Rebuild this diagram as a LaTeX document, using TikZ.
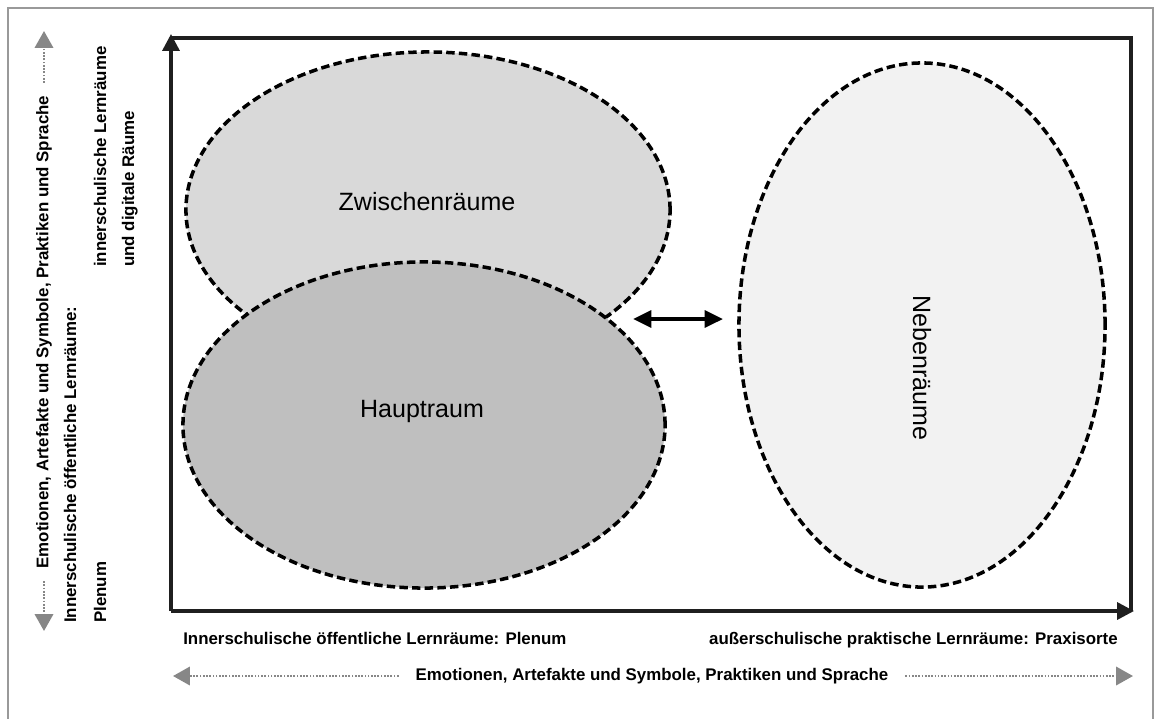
\documentclass[tikz,border=0pt]{standalone}
\usepackage{fontspec}
\setmainfont{Liberation Sans}
\usetikzlibrary{arrows.meta,shapes.geometric}
\definecolor{ZwischenClr}{rgb}{0.85,0.85,0.85}
\definecolor{HauptClr}{rgb}{0.75,0.75,0.75}
\definecolor{NebenClr}{rgb}{0.95,0.95,0.95}
\definecolor{PfeilClr}{rgb}{0.53,0.53,0.53}
\definecolor{RahmenClr}{rgb}{0.6,0.6,0.6}
\definecolor{AchsenClr}{rgb}{0.12,0.12,0.12}

\begin{document}
\begin{tikzpicture}[x=0.025cm,y=-0.025cm,
  raum/.style={ellipse,draw=black,line width=2.5pt,dash pattern=on 6pt off 3pt,inner sep=0pt},
  raumtext/.style={font=\fontsize{17.8}{20}\selectfont},
  klein/.style={font=\fontsize{12}{14}\selectfont\bfseries,inner sep=0pt},
  seite/.style={klein,rotate=90,anchor=base west},
  achse/.style={line width=2.5pt,draw=AchsenClr,-{Triangle[length=12pt,width=12pt]}},
  grauPfeil/.style={draw=PfeilClr,line width=1.8pt,dash pattern=on 1.2pt off 1.1pt,
    -{Triangle[length=12pt,width=13pt]},shorten <=9pt}]

\useasboundingbox (0,0) rectangle (1161,718);
\draw[RahmenClr,line width=1.1pt] (8,8) rectangle (1153,730);

% Raeume
\node[raum,fill=ZwischenClr,minimum width=12.1cm,minimum height=7.9cm] (zwischen) at (428,210) {};
\node[raum,fill=HauptClr,minimum width=12.05cm,minimum height=8.15cm] (haupt) at (424,425) {};
\node[raum,fill=NebenClr,minimum width=9.15cm,minimum height=13.1cm] (neben) at (922,325) {};

\node[raumtext] (zwischenText) at (427,202) {Zwischenräume};
\node[raumtext] (hauptText) at (422,411) {Hauptraum};
\node[raumtext,rotate=-90] (nebenText) at (922,368) {Nebenräume};

\coordinate (pfeilLinks) at (633,319);
\coordinate (pfeilRechts) at (723,319);
\draw[line width=2.6pt,{Triangle[length=13pt,width=12pt]}-{Triangle[length=13pt,width=12pt]}] (pfeilLinks) -- (pfeilRechts);

% Achsen und Rahmen
\coordinate (ursprung) at (171,611);
\coordinate (yTip) at (171,34);
\coordinate (xTip) at (1134,611);
\coordinate (obenLinks) at (171,38);
\coordinate (obenRechts) at (1131,38);
\coordinate (untenRechts) at (1131,611);
\draw[line width=2.5pt,AchsenClr] (obenLinks) -- (obenRechts) -- (untenRechts);
\draw[achse] (ursprung) -- (yTip);
\draw[achse] (ursprung) -- (xTip);

% Beschriftung unten
\node[klein,anchor=base west] (plenumLabel) at (183,644) {Innerschulische öffentliche Lernräume: Plenum};
\node[klein,anchor=base east] (praxisLabel) at (1118,644) {außerschulische praktische Lernräume: Praxisorte};

\node[klein] (emoUnten) at (652,676) {Emotionen, Artefakte und Symbole, Praktiken und Sprache};
\coordinate (untenL) at (173,676);
\coordinate (untenR) at (1133,676);
\draw[grauPfeil,shorten <=12pt] (emoUnten.west) -- (untenL);
\draw[grauPfeil,shorten <=12pt] (emoUnten.east) -- (untenR);

% Beschriftung links
\node[klein,rotate=90] (emoSeite) at (44,332) {Emotionen, Artefakte und Symbole, Praktiken und Sprache};
\coordinate (seiteOben) at (44,31);
\coordinate (seiteUnten) at (44,631);
\draw[grauPfeil] (emoSeite.east) -- (seiteOben);
\draw[grauPfeil] (emoSeite.west) -- (seiteUnten);

\node[seite] (plenumSeite) at (76,623) {Innerschulische öffentliche Lernräume:};
\node[seite] (plenumSeiteB) at (106,623) {Plenum};
\node[seite] (digitalSeite) at (106,267) {innerschulische Lernräume};
\node[seite] (digitalSeiteB) at (134,267) {und digitale Räume};

\end{tikzpicture}
\end{document}
